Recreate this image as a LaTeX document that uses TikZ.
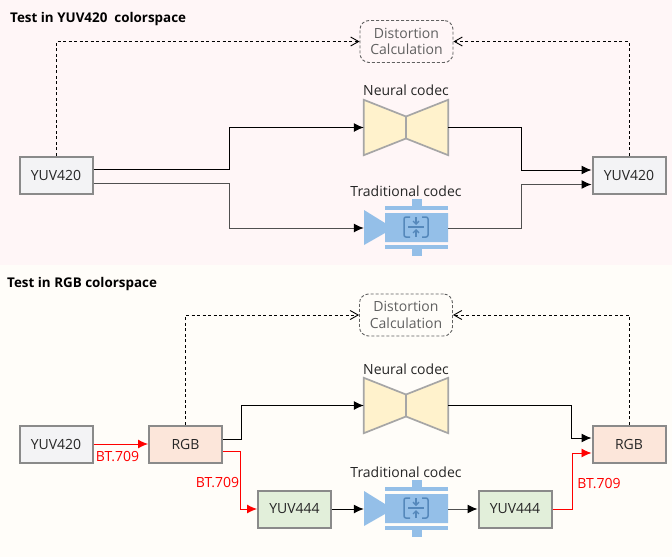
\documentclass[tikz,border=0pt]{standalone}
\usepackage{fontspec}
\setmainfont{Open Sans}
\usetikzlibrary{arrows.meta,calc}
\definecolor{bgA}{HTML}{FFF6F7}
\definecolor{bgB}{HTML}{FFFDF9}
\definecolor{edgeG}{HTML}{8A8A8A}
\definecolor{fillG}{HTML}{F3F3F5}
\definecolor{fillO}{HTML}{FCE6DA}
\definecolor{fillV}{HTML}{E2EFDA}
\definecolor{neurF}{HTML}{FFF2CC}
\definecolor{neurE}{HTML}{A6A6A6}
\definecolor{tradF}{HTML}{94BFE8}
\definecolor{tradD}{HTML}{5588BB}
\definecolor{txtG}{HTML}{606060}
\definecolor{lineD}{HTML}{505050}
\tikzset{
  x=1pt,y=-1pt,
  every node/.style={font=\fontsize{14}{17}\selectfont,text=black!85,inner sep=0pt},
  databox/.style={draw=edgeG,line width=2pt,minimum width=73pt,minimum height=37pt},
  distbox/.style={draw=txtG,dashed,dash pattern=on 3pt off 2pt,line width=.9pt,rounded corners=9pt,minimum width=93pt,minimum height=42pt,align=center,text=txtG,font=\fontsize{14}{16.5}\selectfont},
  blackflow/.style={draw=black,line width=1pt,-{Latex[length=10pt,width=9pt]}},
  greyflow/.style={draw=lineD,line width=1pt,-{Latex[length=10pt,width=9pt,color=black]}},
  redflow/.style={draw=red,line width=.9pt,-{Latex[length=10pt,width=9pt]}},
  dashflow/.style={draw=black,dashed,dash pattern=on 3pt off 2.5pt,line width=.9pt,-{Straight Barb[length=8pt,width=9pt]}},
  redlabel/.style={text=red},
  codeclabel/.style={},
  titlelabel/.style={font=\fontsize{13.4}{15}\selectfont\bfseries,text=black,anchor=west},
  hold/.style={minimum width=84pt,minimum height=55pt}
}
\newcommand{\neuralcodec}[2]{%
  \node[hold] (#1) at (406,#2) {};
  \draw[draw=neurE,line width=1.7pt,fill=neurF,line join=miter]
    (#1.north west) -- (406,#2-11) -- (#1.north east) -- (#1.south east) -- (406,#2+11) -- (#1.south west) -- cycle;
  \draw[neurE,line width=1.7pt] (406,#2-11) -- (406,#2+11);
}
\newcommand{\tradcodec}[2]{%
  \node[minimum width=84pt,minimum height=35pt] (#1) at (406,#2) {};
  \fill[tradF] (364,#2-18) -- (385,#2-5) -- (385,#2-15) -- (448,#2-15) -- (448,#2+14) -- (385,#2+14) -- (385,#2+5) -- (364,#2+17) -- cycle;
  \fill[tradF] (385,#2-22) rectangle (448,#2-18.5);
  \fill[tradF] (385,#2+17) rectangle (448,#2+21);
  \fill[tradF] (412,#2-29) rectangle (422,#2-22);
  \fill[tradF] (412,#2+21) rectangle (422,#2+28);
  \draw[tradD,line width=1.5pt,rounded corners=2pt]
    (410,#2-11) -- (404,#2-11) -- (404,#2+9) -- (410,#2+9);
  \draw[tradD,line width=1.5pt,rounded corners=2pt]
    (422,#2-11) -- (428,#2-11) -- (428,#2+9) -- (422,#2+9);
  \draw[tradD,line width=1.3pt] (408,#2-1) -- (424,#2-1);
  \draw[tradD,line width=1.3pt,-{Straight Barb[length=3pt,width=6pt]}] (416,#2-11) -- (416,#2-3);
  \draw[tradD,line width=1.3pt,-{Straight Barb[length=3pt,width=6pt]}] (416,#2+9) -- (416,#2+1);
}
\begin{document}
\begin{tikzpicture}
\useasboundingbox (0,0) rectangle (672,557);
\fill[bgA] (0,0) rectangle (672,265);
\fill[bgB] (0,265) rectangle (672,557);
%
\node[titlelabel] (t1) at (10,19.5) {Test in YUV420\ \ colorspace};
\node[titlelabel] (t2) at (7,284.5) {Test in RGB colorspace};
% top row
\node[databox,fill=fillG] (a1) at (56,175) {YUV420};
\node[databox,fill=fillG] (a2) at (629,175) {YUV420};
\node[distbox] (d1) at (406.5,41.5) {Distortion\\Calculation};
\neuralcodec{n1}{127.5}
\tradcodec{c1}{228}
\node[codeclabel] (nl1) at (406,90) {Neural codec};
\node[codeclabel] (cl1) at (406,191) {Traditional codec};
\draw[blackflow] ($(a1.east)+(0,-6)$) -| (229,127.5) -- (n1.west);
\draw[greyflow] ($(a1.east)+(0,8)$) -| (229,228) -- (c1.west);
\draw[blackflow] (n1.east) -| (521,170) -- ($(a2.west)+(0,-5)$);
\draw[greyflow] (c1.east) -| (521,184.5) -- ($(a2.west)+(0,9.5)$);
\draw[dashflow] (a1.north) |- (d1.west);
\draw[dashflow] (a2.north) |- (d1.east);
% bottom row
\node[databox,fill=fillG] (b1) at (56,444) {YUV420};
\node[databox,fill=fillO] (b2) at (185.5,444) {RGB};
\node[databox,fill=fillV] (b3) at (294.5,509) {YUV444};
\node[databox,fill=fillV] (b4) at (515,509) {YUV444};
\node[databox,fill=fillO] (b5) at (629,444) {RGB};
\node[distbox] (d2) at (406,315) {Distortion\\Calculation};
\neuralcodec{n2}{405.5}
\tradcodec{c2}{509}
\node[codeclabel] (nl2) at (406,369) {Neural codec};
\node[codeclabel] (cl2) at (406,472) {Traditional codec};
\draw[redflow] (b1.east) -- (b2.west);
\draw[blackflow] ($(b2.east)+(0,-5)$) -| (241,405.5) -- (n2.west);
\draw[redflow] ($(b2.east)+(0,7)$) -| (240.5,509) -- (b3.west);
\draw[blackflow] (b3.east) -- (c2.west);
\draw[greyflow] (c2.east) -- (b4.west);
\draw[redflow] (b4.east) -| (572,453) -- ($(b5.west)+(0,9)$);
\draw[blackflow] (n2.east) -| (571,438) -- ($(b5.west)+(0,-6)$);
\draw[dashflow] (b2.north) |- (d2.west);
\draw[dashflow] (b5.north) |- (d2.east);
\node[redlabel] (r1) at (117.5,457) {BT.709};
\node[redlabel] (r2) at (217.5,483) {BT.709};
\node[redlabel] (r3) at (599,484) {BT.709};
\end{tikzpicture}
\end{document}
